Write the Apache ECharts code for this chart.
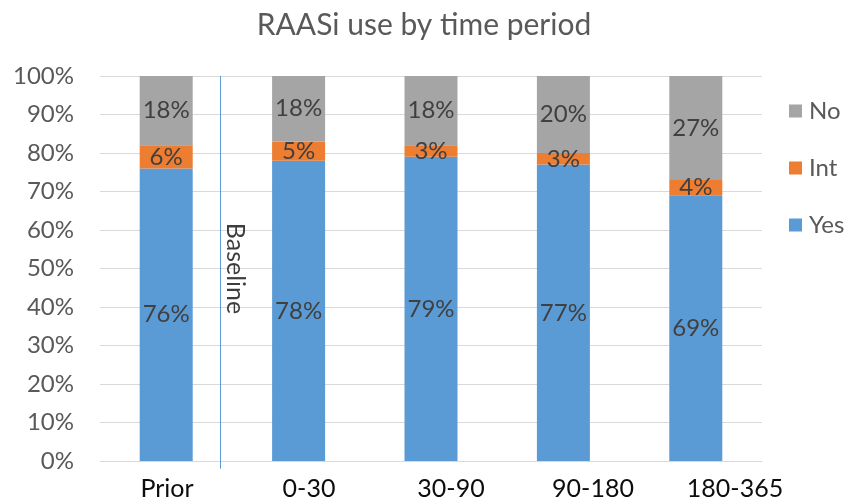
<!DOCTYPE html>
<html>
<head>
<meta charset="utf-8">
<script src="https://cdn.jsdelivr.net/npm/echarts@6/dist/echarts.min.js"></script>
<style>
  html, body { margin: 0; padding: 0; background: #fff; }
  #chart { width: 848px; height: 501px; }
</style>
</head>
<body>
<div id="chart"></div>
<script>
// Share of patients on RAAS inhibitors, by period relative to baseline
const categories = ['Prior', '0-30', '30-90', '90-180', '180-365'];
const yesPct = [76, 78, 79, 77, 69];
const intPct = [6, 5, 3, 3, 4];
const noPct = [18, 18, 18, 20, 27];
const yTicks = [0, 10, 20, 30, 40, 50, 60, 70, 80, 90, 100];

// Baseline divider, placed on a hidden continuous x scale (category index units)
const baselineX = 0.41;
const baselineSpan = [-2, 100];
const baselineLabelPos = [0.52, 50];

const FONT = 'Lato';
const GREY_TEXT = '#595959';
const DARK_TEXT = '#0d0d0d';

const chart = echarts.init(document.getElementById('chart'), null, { renderer: 'canvas' });

const segLabel = {
  show: true,
  position: 'inside',
  formatter: p => p.value + '%',
  color: '#404040',
  fontFamily: FONT,
  fontSize: 24
};

function stackSeries(name, data, color) {
  return {
    name, type: 'bar', stack: 'total', data,
    barWidth: 53,
    itemStyle: { color },
    label: segLabel,
    emphasis: { disabled: true }
  };
}

chart.setOption({
  animation: false,
  title: {
    text: 'RAASi use by time period',
    left: 'center', top: 5,
    textStyle: { fontFamily: FONT, fontSize: 30, fontWeight: 'normal', color: GREY_TEXT }
  },
  legend: {
    orient: 'vertical',
    left: 784, top: 94,
    itemGap: 33,
    itemWidth: 13, itemHeight: 13,
    icon: 'rect',
    data: ['No', 'Int', 'Yes'],
    textStyle: { fontFamily: FONT, fontSize: 24, color: GREY_TEXT, padding: [0, 0, 0, 2] }
  },
  grid: [
    { left: 100, right: 86, top: 76, bottom: 40, containLabel: false },
    // wider band carrying the period labels under the bars
    { left: 96, right: 42, top: 76, bottom: 40, containLabel: false }
  ],
  xAxis: [
    {
      type: 'category',
      gridIndex: 0,
      data: categories,
      axisLine: { show: true, lineStyle: { color: '#d9d9d9' } },
      axisTick: { show: false },
      axisLabel: { show: false }
    },
    {
      type: 'value', gridIndex: 0, min: -0.5, max: 4.5, show: false
    },
    {
      type: 'category',
      gridIndex: 1,
      data: categories,
      axisLine: { show: false },
      axisTick: { show: false },
      axisLabel: { fontFamily: FONT, fontSize: 25, color: DARK_TEXT, margin: 17 }
    }
  ],
  yAxis: [
    {
      type: 'value', gridIndex: 0,
      min: yTicks[0], max: yTicks[yTicks.length - 1], interval: 10,
      axisLine: { show: false },
      axisTick: { show: false },
      splitLine: { lineStyle: { color: '#d9d9d9', width: 1 } },
      axisLabel: { formatter: '{value}%', fontFamily: FONT, fontSize: 24, color: GREY_TEXT, margin: 26 }
    },
    {
      type: 'value', gridIndex: 1, min: 0, max: 100, show: false
    }
  ],
  series: [
    stackSeries('Yes', yesPct, '#5b9bd5'),
    stackSeries('Int', intPct, '#ed7d31'),
    stackSeries('No', noPct, '#a5a5a5'),
    {
      name: 'baseline', type: 'line', xAxisIndex: 1,
      data: baselineSpan.map(v => [baselineX, v]),
      symbol: 'none', clip: false, silent: true,
      lineStyle: { color: '#5b9bd5', width: 1 },
      z: 5
    },
    {
      name: 'baselineText', type: 'scatter', xAxisIndex: 1,
      data: [baselineLabelPos],
      symbolSize: 0, silent: true,
      label: {
        show: true, position: 'inside', rotate: -90,
        formatter: 'Baseline',
        fontFamily: FONT, fontSize: 25, color: DARK_TEXT
      }
    }
  ]
});
</script>
</body>
</html>
